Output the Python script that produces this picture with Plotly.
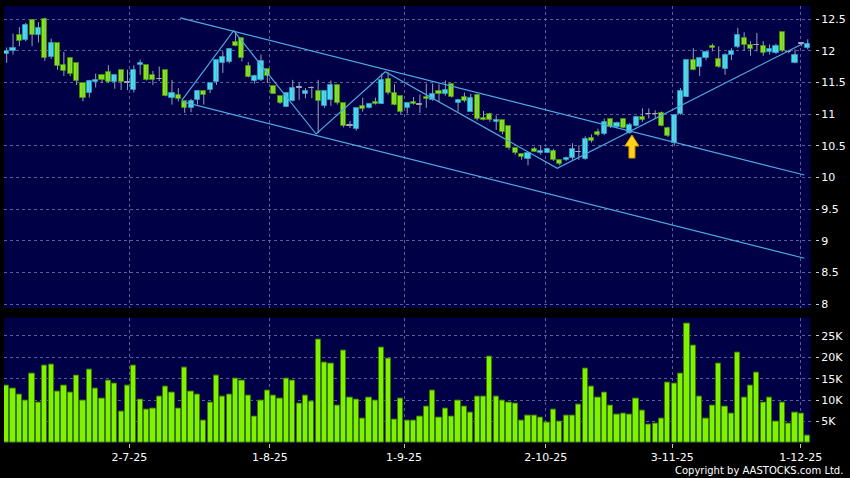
import plotly.graph_objects as go

# ---- data ----
opens = [11.95, 11.99, 12.25, 12.17, 12.48, 12.25, 12.50, 11.90, 12.12, 11.77,
         11.89, 11.81, 11.49, 11.33, 11.50, 11.62, 11.67, 11.50, 11.70, 11.50,
         11.38, 11.78, 11.77, 11.61, 11.55, 11.69, 11.26, 11.30, 11.21, 11.10,
         11.23, 11.37, 11.38, 11.50, 11.81, 11.82, 12.14, 12.20, 11.76, 11.52,
         11.53, 11.71, 11.45, 11.29, 11.11, 11.20, 11.42, 11.31, 11.41, 11.36,
         11.12, 11.23, 11.46, 11.17, 10.82, 10.76, 11.12, 11.09, 11.19, 11.16,
         11.56, 11.34, 11.29, 11.09, 11.19, 11.15, 11.27, 11.22, 11.36, 11.31,
         11.48, 11.17, 11.27, 11.04, 11.30, 10.94, 11.00, 10.87, 10.90, 10.81,
         10.46, 10.37, 10.29, 10.45, 10.39, 10.39, 10.42, 10.27, 10.27, 10.31,
         10.40, 10.29, 10.63, 10.71, 10.68, 10.92, 10.79, 10.92, 10.70, 10.81,
         10.95, 11.00, 11.00, 11.02, 10.78, 10.54, 11.00, 11.27, 11.85, 11.74,
         11.88, 12.08, 11.87, 11.71, 11.93, 12.06, 12.20, 12.09, 12.09, 12.07,
         11.98, 11.96, 12.29, 11.98, 11.81, 12.11, 12.04]
highs = [12.05, 12.27, 12.37, 12.44, 12.50, 12.45, 12.52, 12.19, 12.12, 11.98,
         11.89, 11.81, 11.49, 11.54, 11.64, 11.62, 11.77, 11.62, 11.70, 11.70,
         11.77, 11.86, 11.77, 11.68, 11.75, 11.69, 11.54, 11.41, 11.21, 11.24,
         11.38, 11.37, 11.49, 11.85, 11.99, 12.04, 12.30, 12.20, 11.82, 11.62,
         11.94, 11.71, 11.45, 11.29, 11.34, 11.54, 11.49, 11.41, 11.44, 11.54,
         11.37, 11.53, 11.46, 11.17, 10.89, 11.09, 11.26, 11.17, 11.26, 11.64,
         11.66, 11.47, 11.29, 11.17, 11.27, 11.31, 11.48, 11.48, 11.47, 11.53,
         11.48, 11.24, 11.34, 11.32, 11.32, 11.05, 11.02, 10.98, 10.90, 10.81,
         10.46, 10.38, 10.40, 10.48, 10.51, 10.47, 10.45, 10.28, 10.33, 10.54,
         10.51, 10.65, 10.68, 10.77, 10.93, 10.93, 10.88, 10.93, 10.86, 10.97,
         11.09, 11.09, 11.06, 11.04, 10.80, 11.00, 11.41, 11.85, 12.04, 11.89,
         11.99, 12.11, 12.07, 11.96, 12.04, 12.36, 12.29, 12.15, 12.28, 12.15,
         12.10, 12.11, 12.29, 12.01, 12.02, 12.13, 12.18]
lows = [11.81, 11.94, 12.07, 12.15, 12.07, 12.13, 11.84, 11.87, 11.70, 11.60,
        11.60, 11.46, 11.20, 11.26, 11.42, 11.49, 11.49, 11.40, 11.38, 11.38,
        11.34, 11.62, 11.53, 11.46, 11.52, 11.28, 11.15, 11.20, 11.02, 11.03,
        11.15, 11.15, 11.33, 11.46, 11.65, 11.80, 12.07, 11.83, 11.58, 11.48,
        11.52, 11.49, 11.32, 11.16, 11.11, 11.20, 11.22, 11.25, 11.25, 10.70,
        11.10, 11.13, 11.15, 10.79, 10.78, 10.74, 11.04, 11.09, 11.15, 11.16,
        11.31, 11.14, 11.00, 11.01, 11.15, 11.02, 11.10, 11.21, 11.19, 11.29,
        11.26, 11.04, 11.19, 11.04, 10.90, 10.90, 10.88, 10.75, 10.68, 10.44,
        10.36, 10.28, 10.19, 10.41, 10.36, 10.39, 10.26, 10.19, 10.26, 10.28,
        10.28, 10.28, 10.55, 10.65, 10.67, 10.78, 10.78, 10.78, 10.69, 10.80,
        10.88, 10.93, 10.93, 10.81, 10.64, 10.50, 10.99, 11.27, 11.69, 11.60,
        11.85, 11.99, 11.73, 11.62, 11.85, 12.04, 12.00, 11.92, 11.99, 11.92,
        11.94, 11.95, 11.98, 11.96, 11.80, 12.07, 12.02]
closes = [12.00, 12.04, 12.16, 12.41, 12.25, 12.36, 11.89, 12.12, 11.76, 11.68,
          11.63, 11.52, 11.26, 11.52, 11.53, 11.54, 11.50, 11.62, 11.50, 11.50,
          11.69, 11.81, 11.53, 11.53, 11.55, 11.28, 11.33, 11.24, 11.10, 11.21,
          11.37, 11.30, 11.49, 11.85, 11.90, 12.03, 12.07, 11.88, 11.58, 11.60,
          11.83, 11.60, 11.32, 11.17, 11.34, 11.41, 11.42, 11.37, 11.41, 11.20,
          11.37, 11.46, 11.17, 10.81, 10.82, 11.09, 11.08, 11.16, 11.16, 11.53,
          11.34, 11.14, 11.04, 11.17, 11.16, 11.15, 11.24, 11.31, 11.31, 11.38,
          11.27, 11.22, 11.21, 11.26, 10.92, 10.90, 10.90, 10.90, 10.71, 10.46,
          10.38, 10.32, 10.39, 10.41, 10.42, 10.45, 10.27, 10.22, 10.31, 10.45,
          10.40, 10.60, 10.57, 10.67, 10.88, 10.79, 10.86, 10.78, 10.83, 10.95,
          10.91, 11.00, 11.00, 10.82, 10.65, 10.99, 11.37, 11.85, 11.69, 11.88,
          11.98, 12.05, 11.75, 11.94, 11.99, 12.24, 12.09, 12.03, 12.09, 11.96,
          12.02, 12.07, 11.99, 11.98, 11.93, 12.11, 12.11]
volumes_k = [13.5, 12.7, 11.3, 9.8, 16.3, 9.5, 18.1, 18.3, 11.9, 13.5,
             11.8, 15.8, 10.0, 17.2, 12.8, 10.3, 14.5, 13.8, 7.4, 13.3,
             18.2, 10.1, 7.8, 8.0, 10.8, 13.1, 11.7, 8.1, 17.6, 11.9,
             11.4, 5.2, 9.4, 15.8, 10.8, 11.2, 15.0, 14.5, 11.0, 6.2,
             9.9, 12.3, 11.1, 10.3, 15.0, 14.6, 9.2, 11.1, 9.7, 24.2,
             18.8, 18.6, 8.8, 21.5, 10.6, 10.2, 5.7, 10.5, 9.8, 22.2,
             19.8, 5.4, 10.4, 5.2, 5.2, 6.2, 8.6, 12.2, 6.0, 8.0,
             6.1, 9.8, 8.5, 7.2, 10.8, 10.9, 20.2, 10.9, 10.0, 9.5,
             9.3, 5.2, 6.5, 6.3, 5.9, 4.8, 7.8, 4.9, 6.4, 6.5,
             9.0, 17.5, 13.2, 10.6, 11.8, 8.7, 6.7, 6.8, 6.7, 10.3,
             7.5, 4.2, 4.6, 5.7, 14.2, 13.8, 16.3, 27.8, 22.8, 10.8,
             5.7, 8.7, 18.6, 8.5, 6.9, 21.2, 10.5, 13.3, 16.5, 9.4,
             10.7, 5.1, 9.5, 4.5, 7.2, 6.8, 1.8]

tick_pos = [19.3, 41.4, 62.5, 84.8, 104.7, 124.9]
tick_labels = ["2-7-25", "1-8-25", "1-9-25", "2-10-25", "3-11-25", "1-12-25"]
price_ticks = [8, 8.5, 9, 9.5, 10, 10.5, 11, 11.5, 12, 12.5]
price_tick_labels = ["8", "8.5", "9", "9.5", "10", "10.5", "11", "11.5", "12", "12.5"]
vol_ticks = [5000, 10000, 15000, 20000, 25000]
vol_tick_labels = ["5K", "10K", "15K", "20K", "25K"]

# drawn trend lines (index, price)
upper_x = [27.3, 125.47]
upper_y = [12.517, 10.039]
lower_x = [27.58, 125.47]
lower_y = [11.196, 8.726]
zigzag_x = [27.55, 35.70, 48.68, 59.55, 86.60, 125.42]
zigzag_y = [11.215, 12.315, 10.686, 11.669, 10.145, 12.121]
arrow_x = 98.35
arrow_y = 10.67

# ---- build ----
n = len(opens)
idx = list(range(n))
volumes = [v * 1000 for v in volumes_k]

NAVY = "#000046"
GRID = "rgba(125,125,175,0.75)"
TREND = "#4FA8E0"

fig = go.Figure()

# wicks
wx, wy = [], []
for i in idx:
    wx += [i, i, None]
    wy += [lows[i], highs[i], None]
fig.add_trace(go.Scatter(x=wx, y=wy, mode="lines", line=dict(color="#9aa0b4", width=1),
                         hoverinfo="skip", showlegend=False, xaxis="x", yaxis="y"))

up_i = [i for i in idx if closes[i] > opens[i]]
dn_i = [i for i in idx if closes[i] < opens[i]]
fl_i = [i for i in idx if closes[i] == opens[i]]

fig.add_trace(go.Bar(x=up_i, base=[opens[i] for i in up_i],
                     y=[closes[i] - opens[i] for i in up_i], width=0.8,
                     marker=dict(color="#3BE3F2", line=dict(color="#1C8FC4", width=1)),
                     showlegend=False, xaxis="x", yaxis="y"))
fig.add_trace(go.Bar(x=dn_i, base=[closes[i] for i in dn_i],
                     y=[opens[i] - closes[i] for i in dn_i], width=0.8,
                     marker=dict(color="#80EE00", line=dict(color="#3D8A00", width=1)),
                     showlegend=False, xaxis="x", yaxis="y"))
fig.add_trace(go.Bar(x=fl_i, base=[opens[i] - 0.004 for i in fl_i],
                     y=[0.008 for _ in fl_i], width=0.8,
                     marker=dict(color="#a8a8b8", line=dict(color="#a8a8b8", width=1)),
                     showlegend=False, xaxis="x", yaxis="y"))

# trend lines
for lx, ly in [(upper_x, upper_y), (lower_x, lower_y), (zigzag_x, zigzag_y)]:
    fig.add_trace(go.Scatter(x=lx, y=ly, mode="lines", line=dict(color=TREND, width=1.2),
                             hoverinfo="skip", showlegend=False, xaxis="x", yaxis="y"))

# volume
fig.add_trace(go.Bar(x=idx, y=volumes, width=0.82,
                     marker=dict(color="#80F200", line=dict(color="#3A7A00", width=1)),
                     showlegend=False, xaxis="x2", yaxis="y2"))

# arrow marker (pixel-sized shape anchored at data point)
fig.add_shape(type="path", xref="x", yref="y", xsizemode="pixel", ysizemode="pixel",
              xanchor=arrow_x, yanchor=arrow_y,
              path="M0,0 L7,-11 L3,-11 L3,-23 L-3,-23 L-3,-11 L-7,-11 Z",
              fillcolor="#FFD21A", line=dict(color="#E09A00", width=1))

fig.add_annotation(text="Copyright by AASTOCKS.com Ltd.", xref="paper", yref="paper",
                   x=1.037, y=-0.062, xanchor="right", yanchor="middle", showarrow=False,
                   font=dict(family="DejaVu Sans", size=10, color="white"))

xr = [-0.42, 126.44]
common_x = dict(domain=[0, 0.9945], range=xr, showgrid=True, gridcolor=GRID, griddash="3px,3px",
                gridwidth=1, zeroline=False, showline=False, tickmode="array", tickvals=tick_pos)
fig.update_layout(
    width=850, height=478,
    margin=dict(l=4, r=32, t=6, b=35),
    paper_bgcolor="black", plot_bgcolor=NAVY,
    barmode="overlay", bargap=0,
    font=dict(family="DejaVu Sans", size=11, color="white"),
    xaxis=dict(anchor="y", showticklabels=False, ticks="", **common_x),
    xaxis2=dict(anchor="y2", matches="x", ticktext=tick_labels, ticks="outside", ticklen=4,
                tickcolor="#c0c0c0", **common_x),
    yaxis=dict(domain=[0.309, 1], anchor="free", position=1.0, side="right",
               range=[7.942, 12.705], tickmode="array", tickvals=price_ticks,
               ticktext=price_tick_labels, ticks="outside", ticklen=3, tickcolor="#d0d0d0",
               showgrid=True, gridcolor=GRID, griddash="3px,3px", zeroline=False, showline=False),
    yaxis2=dict(domain=[0, 0.287], anchor="free", position=1.0, side="right",
                range=[0, 29300], tickmode="array", tickvals=vol_ticks,
                ticktext=vol_tick_labels, ticks="outside", ticklen=3, tickcolor="#d0d0d0",
                showgrid=True, gridcolor=GRID, griddash="3px,3px", zeroline=False, showline=False),
)

fig.write_html("out.html", config={"displayModeBar": False},
               post_script="document.body.style.margin='0';document.body.style.background='black';")
